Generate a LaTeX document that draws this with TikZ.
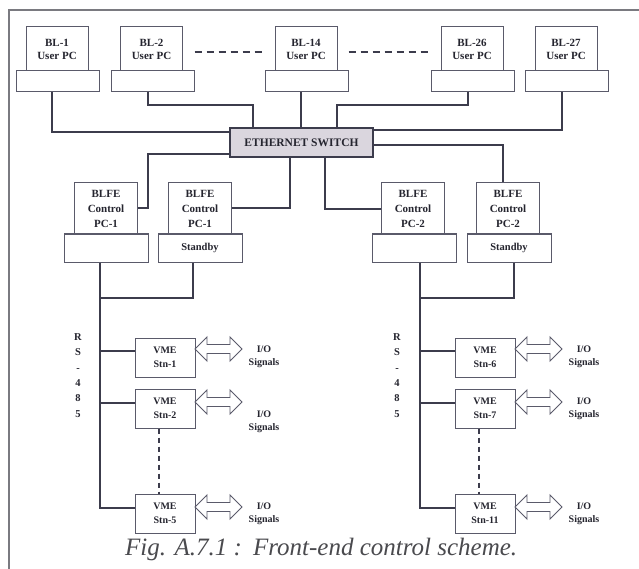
\documentclass[tikz,border=0pt]{standalone}
\usepackage{fontspec}
\setmainfont{Liberation Serif}
\definecolor{linec}{HTML}{3C3C4C}
\definecolor{boxc}{HTML}{5A5A6A}
\definecolor{txtc}{HTML}{25252F}
\definecolor{swfill}{HTML}{DAD6DE}
\definecolor{framec}{HTML}{7A7A80}
\definecolor{capc}{HTML}{4A4A4E}
\tikzset{
  ln/.style={draw=linec, line width=1.4pt},
  boxbase/.style={draw=boxc, line width=1pt, fill=white, inner sep=0pt, align=center, text=txtc},
  umon/.style={boxbase, minimum width=62pt, minimum height=44pt, font=\fontsize{11}{13}\selectfont\bfseries},
  ubase/.style={boxbase, minimum width=83pt, minimum height=21pt},
  cmon/.style={boxbase, minimum width=63pt, minimum height=51pt, font=\fontsize{11}{15}\selectfont\bfseries},
  cbase/.style={boxbase, minimum width=84pt, minimum height=28pt, font=\fontsize{10.5}{12}\selectfont\bfseries},
  vme/.style={boxbase, minimum width=60pt, minimum height=39pt, font=\fontsize{10}{14.5}\selectfont\bfseries},
  iotxt/.style={align=center, inner sep=0pt, text=txtc, font=\fontsize{10}{13}\selectfont\bfseries},
  rstxt/.style={align=center, inner sep=0pt, text=txtc, font=\fontsize{10.5}{15.4}\selectfont\bfseries},
  darr/.style={draw=boxc, line width=0.9pt, fill=white, line join=miter},
}
% double hollow arrow: x0, x1, cy
\newcommand\dblarr[3]{%
  \draw[darr] (#1,#3) -- (#1+12,#3-12) -- (#1+12,#3-4.5) -- (#2-12,#3-4.5) -- (#2-12,#3-12)
   -- (#2,#3) -- (#2-12,#3+12) -- (#2-12,#3+4.5) -- (#1+12,#3+4.5) -- (#1+12,#3+12) -- cycle;}
\begin{document}
\begin{tikzpicture}[x=1pt,y=-1pt]
\useasboundingbox (0,0) rectangle (639,569);
\fill[white] (0,0) rectangle (639,569);
% frame
\draw[framec, line width=1.5pt] (9,569) -- (9,10) -- (639,10);

% user PCs
\node[umon] (m1)  at (57,49)    {BL-1\\User PC};
\node[ubase] (b1) at (57.5,81.5) {};
\node[umon] (m2)  at (151.5,49) {BL-2\\User PC};
\node[ubase] (b2) at (152.5,81.5) {};
\node[umon] (m14) at (306,49)   {BL-14\\User PC};
\node[ubase] (b14) at (306.5,81.5) {};
\node[umon] (m26) at (472,49)   {BL-26\\User PC};
\node[ubase] (b26) at (473,81.5) {};
\node[umon] (m27) at (566,49)   {BL-27\\User PC};
\node[ubase] (b27) at (567,81.5) {};
\draw[linec, line width=1.3pt, dash pattern=on 7pt off 5pt] (b2.east |- 0,52) -- (b14.west |- 0,52);
\draw[linec, line width=1.3pt, dash pattern=on 7pt off 5pt] (b14.east |- 0,52) -- (b26.west |- 0,52);

% switch
\node[draw=linec, line width=2pt, fill=swfill, minimum width=143pt, minimum height=29pt, inner sep=0pt,
      text=txtc, font=\fontsize{11.5}{13}\selectfont\bfseries] (sw) at (301.5,142.5) {ETHERNET SWITCH};

\draw[ln] (b1.south -| 52,0) |- (sw.west |- 0,132);
\draw[ln] (b2.south -| 148,0) |- (253,105) -- (sw.north -| 253,0);
\draw[ln] (b14.south -| 301,0) -- (sw.north -| 301,0);
\draw[ln] (b26.south -| 468,0) |- (337,105) -- (sw.north -| 337,0);
\draw[ln] (b27.south -| 562,0) |- (sw.east |- 0,130);

% BLFE control PCs
\node[cmon] (c1)  at (106,208.5) {BLFE\\Control\\PC-1};
\node[cbase] (cb1) at (106.5,248) {};
\node[cmon] (s1)  at (200,208.5) {BLFE\\Control\\PC-1};
\node[cbase] (sb1) at (200,248) {Standby};
\node[cmon] (c2)  at (413,208.5) {BLFE\\Control\\PC-2};
\node[cbase] (cb2) at (414.5,248) {};
\node[cmon] (s2)  at (508,208.5) {BLFE\\Control\\PC-2};
\node[cbase] (sb2) at (509,248) {Standby};

\draw[ln] (sw.west |- 0,154) -| (148,208) -- (c1.east |- 0,208);
\draw[ln] (sw.south -| 290,0) |- (s1.east |- 0,208);
\draw[ln] (sw.south -| 325,0) |- (c2.west |- 0,209);
\draw[ln] (sw.east |- 0,145) -| (s2.north -| 503,0);

% VME stations left
\node[vme] (v1) at (165,357.5) {VME\\Stn-1};
\node[vme] (v2) at (165,408.5) {VME\\Stn-2};
\node[vme] (v3) at (165,513.5) {VME\\Stn-5};
\draw[ln] (cb1.south -| 100,0) -- (100,508) -- (v3.west |- 0,508);
\draw[ln] (sb1.south -| 193,0) |- (100,298);
\draw[ln] (100,351) -- (v1.west |- 0,351);
\draw[ln] (100,403) -- (v2.west |- 0,403);
\draw[linec, line width=1.2pt, dash pattern=on 5pt off 4pt] (v2.south -| 159,0) -- (v3.north -| 159,0);
\node[rstxt] (rs1) at (78,375.5) {R\\S\\-\\4\\8\\5};
\dblarr{195}{242}{349}
\dblarr{195}{242}{402}
\dblarr{195}{242}{507}
\node[iotxt] (io1) at (264,356.5) {I/O\\Signals};
\node[iotxt] (io2) at (264,422) {I/O\\Signals};
\node[iotxt] (io3) at (264,513.5) {I/O\\Signals};

% VME stations right
\node[vme] (v6) at (485,357.5) {VME\\Stn-6};
\node[vme] (v7) at (485,408.5) {VME\\Stn-7};
\node[vme] (v11) at (485,513.5) {VME\\Stn-11};
\draw[ln] (cb2.south -| 420,0) -- (420,508) -- (v11.west |- 0,508);
\draw[ln] (sb2.south -| 514,0) |- (420,298);
\draw[ln] (420,351) -- (v6.west |- 0,351);
\draw[ln] (420,403) -- (v7.west |- 0,403);
\draw[linec, line width=1.2pt, dash pattern=on 5pt off 4pt] (v7.south -| 479,0) -- (v11.north -| 479,0);
\node[rstxt] (rs2) at (397,375.5) {R\\S\\-\\4\\8\\5};
\dblarr{515}{562}{349}
\dblarr{515}{562}{402}
\dblarr{515}{562}{507}
\node[iotxt] (io6) at (584,356.5) {I/O\\Signals};
\node[iotxt] (io7) at (584,408.5) {I/O\\Signals};
\node[iotxt] (io11) at (584,513.5) {I/O\\Signals};

% caption
\node[anchor=base west, inner sep=0pt, text=capc, font=\fontsize{25}{28}\selectfont\itshape] (cap) at (125,555)
  {Fig. A.7.1 :\hspace{0.45em}Front-end control scheme.};
\end{tikzpicture}
\end{document}
